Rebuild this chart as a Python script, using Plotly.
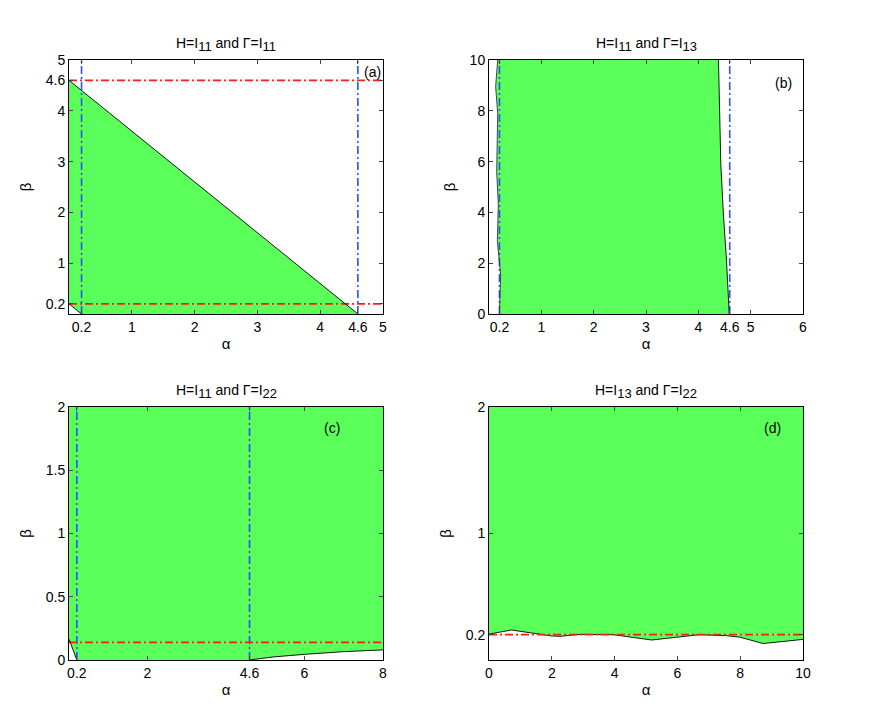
import plotly.graph_objects as go

# ---------------- data ----------------
# panel (a)  H=I11, Gamma=I11
a_diag_alpha = [0.0, 4.6]
a_diag_beta = [4.6, 0.0]
a_corner_alpha = [0.0, 0.2]
a_corner_beta = [0.2, 0.0]
a_hlines = [0.2, 4.6]
a_vlines = [0.2, 4.6]
a_xticks = [0.2, 1, 2, 3, 4, 4.6, 5]
a_yticks = [0.2, 1, 2, 3, 4, 4.6, 5]

# panel (b)  H=I11, Gamma=I13
b_left_alpha = [0.198, 0.223, 0.16, 0.178, 0.147, 0.166, 0.127, 0.166]
b_left_beta = [0.0, 1.54, 2.85, 4.29, 5.6, 7.9, 8.95, 10.0]
b_right_alpha = [4.385, 4.43, 4.48, 4.54, 4.59]
b_right_beta = [10.0, 5.87, 3.9, 2.06, 0.0]
b_vlines = [0.2, 4.6]
b_xticks = [0.2, 1, 2, 3, 4, 4.6, 5, 6]
b_yticks = [0, 2, 4, 6, 8, 10]

# panel (c)  H=I11, Gamma=I22
c_corner_alpha = [0.0, 0.2]
c_corner_beta = [0.165, 0.0]
c_curve_alpha = [4.6, 5.2, 6.0, 7.0, 8.0]
c_curve_beta = [0.0, 0.024, 0.045, 0.066, 0.08]
c_hline = 0.14
c_vlines = [0.2, 4.6]
c_xticks = [0.2, 2, 4.6, 6, 8]
c_yticks = [0, 0.5, 1, 1.5, 2]

# panel (d)  H=I13, Gamma=I22
d_curve_alpha = [0.0, 0.72, 2.0, 2.26, 2.9, 3.96, 5.18, 5.9, 6.7, 7.57, 8.0, 8.73, 10.0]
d_curve_beta = [0.205, 0.237, 0.19, 0.187, 0.203, 0.2, 0.158, 0.18, 0.2, 0.192, 0.18, 0.13, 0.163]
d_hline = 0.2
d_xticks = [0, 2, 4, 6, 8, 10]
d_yticks = [0.2, 1, 2]

SUB = "<sub><span style='font-size:13px'>{}</span></sub>"
titles = ["H=I" + SUB.format("11") + " and Γ=I" + SUB.format("11"),
          "H=I" + SUB.format("11") + " and Γ=I" + SUB.format("13"),
          "H=I" + SUB.format("11") + " and Γ=I" + SUB.format("22"),
          "H=I" + SUB.format("13") + " and Γ=I" + SUB.format("22")]
labels = ["(a)", "(b)", "(c)", "(d)"]
label_pos = [(4.84, 4.76), (5.63, 9.09), (6.71, 1.83), (9.04, 1.83)]
ranges = [([0, 5], [0, 5]), ([0, 6], [0, 10]), ([0, 8], [0, 2]), ([0, 10], [0, 2])]
xticks = [a_xticks, b_xticks, c_xticks, d_xticks]
yticks = [a_yticks, b_yticks, c_yticks, d_yticks]

# ---------------- styles ----------------
W, H = 872, 707
OFF = 8  # page body margin in the browser
GREEN = "#5aff5a"
RED = "#ff1a1a"
BLUE = "#2a52ff"
DASHDOT = "8px,3px,2px,3px"
FONT = "Liberation Sans"
FS = 14

# plot areas in pixels of the screenshot (left, right, top, bottom)
boxes = [(69, 383, 60, 314), (489, 803, 60, 314),
         (69, 383, 407, 660), (489, 803, 407, 660)]

fig = go.Figure()


def axnames(i):
    s = "" if i == 0 else str(i + 1)
    return "x" + s, "y" + s


def add_fill(i, xs, ys):
    xa, ya = axnames(i)
    fig.add_trace(go.Scatter(x=xs, y=ys, xaxis=xa, yaxis=ya, mode="lines",
                             fill="toself", fillcolor=GREEN, line=dict(width=0),
                             hoverinfo="skip", showlegend=False))


def add_line(i, xs, ys, color="black", width=0.9, dash="solid"):
    xa, ya = axnames(i)
    fig.add_trace(go.Scatter(x=xs, y=ys, xaxis=xa, yaxis=ya, mode="lines",
                             line=dict(color=color, width=width, dash=dash),
                             hoverinfo="skip", showlegend=False))


# ---- panel (a)
add_fill(0, [a_corner_alpha[0], a_corner_alpha[1], a_diag_alpha[1], a_diag_alpha[0]],
         [a_corner_beta[0], a_corner_beta[1], a_diag_beta[1], a_diag_beta[0]])
for v in a_vlines:
    add_line(0, [v, v], ranges[0][1], BLUE, 1.6, DASHDOT)
for h in a_hlines:
    add_line(0, ranges[0][0], [h, h], RED, 1.8, DASHDOT)
add_line(0, a_diag_alpha, a_diag_beta)
add_line(0, a_corner_alpha, a_corner_beta)

# ---- panel (b)
add_fill(1, b_left_alpha + b_right_alpha, b_left_beta + b_right_beta)
for v in b_vlines:
    add_line(1, [v, v], ranges[1][1], BLUE, 1.6, DASHDOT)
add_line(1, b_left_alpha, b_left_beta, "#333333", 0.9)
add_line(1, b_right_alpha, b_right_beta)

# ---- panel (c)
c_poly_x = [c_corner_alpha[0], 0, 8] + c_curve_alpha[::-1] + [c_corner_alpha[1]]
c_poly_y = [c_corner_beta[0], 2, 2] + c_curve_beta[::-1] + [c_corner_beta[1]]
add_fill(2, c_poly_x, c_poly_y)
for v in c_vlines:
    add_line(2, [v, v], ranges[2][1], BLUE, 1.6, DASHDOT)
add_line(2, ranges[2][0], [c_hline, c_hline], RED, 1.8, DASHDOT)
add_line(2, c_corner_alpha, c_corner_beta)
add_line(2, c_curve_alpha, c_curve_beta)

# ---- panel (d)
add_fill(3, d_curve_alpha + [10, 0], d_curve_beta + [2, 2])
add_line(3, d_curve_alpha, d_curve_beta)
add_line(3, ranges[3][0], [d_hline, d_hline], RED, 1.8, DASHDOT)

# ---------------- axes ----------------
layout = dict(width=W, height=H,
              margin=dict(l=0, r=0, t=0, b=0, pad=0, autoexpand=False),
              paper_bgcolor="white", plot_bgcolor="white",
              font=dict(family=FONT, size=FS, color="black"), showlegend=False)
annotations = []
for i, (l, r, t, b) in enumerate(boxes):
    l, r, t, b = l - OFF, r - OFF, t - OFF, b - OFF
    s = "" if i == 0 else str(i + 1)
    xd = [l / W, r / W]
    yd = [1 - b / H, 1 - t / H]
    common = dict(showgrid=False, zeroline=False, showline=True, linecolor="black",
                  linewidth=1, mirror="ticks", ticks="inside", ticklen=4,
                  tickcolor="#444444", automargin=False,
                  tickfont=dict(size=FS, family=FONT, color="black"))
    layout["xaxis" + s] = dict(domain=xd, range=ranges[i][0], tickvals=xticks[i],
                               ticktext=[str(v) for v in xticks[i]],
                               anchor="y" + s,
                               title=dict(text="α", standoff=4,
                                          font=dict(size=FS + 1, family=FONT, color="black")),
                               **common)
    layout["yaxis" + s] = dict(domain=yd, range=ranges[i][1], tickvals=yticks[i],
                               ticktext=[str(v) for v in yticks[i]],
                               anchor="x" + s,
                               title=dict(text="β", standoff=10,
                                          font=dict(size=FS + 1, family=FONT, color="black")),
                               **common)
    xa = "x" + s
    ya = "y" + s
    # title
    annotations.append(dict(text=titles[i], xref="paper", yref="paper",
                            x=(l + r) / 2 / W, y=1 - t / H, xanchor="center",
                            yanchor="bottom", yshift=4, showarrow=False,
                            font=dict(size=FS, family=FONT, color="black")))
    # panel letter
    annotations.append(dict(text=labels[i], xref=xa, yref=ya,
                            x=label_pos[i][0], y=label_pos[i][1], showarrow=False,
                            xanchor="center", yanchor="middle",
                            font=dict(size=FS, family=FONT, color="black")))
layout["annotations"] = annotations
fig.update_layout(**layout)

fig.write_html("out.html")
